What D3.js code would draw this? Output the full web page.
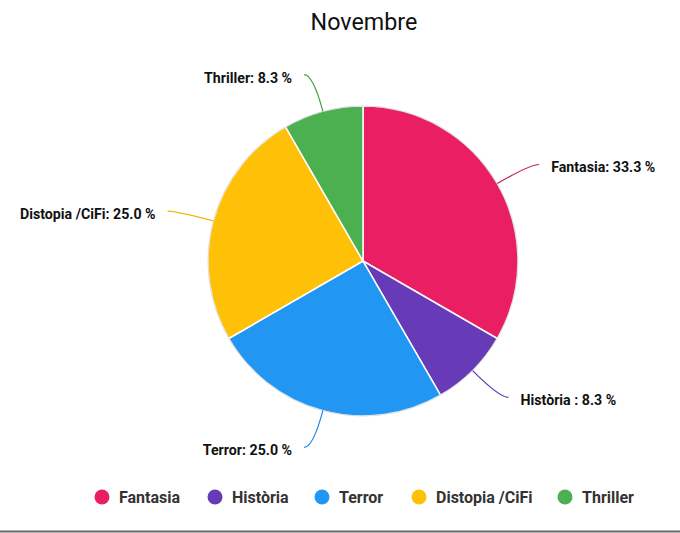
<!DOCTYPE html>
<html>
<head>
<meta charset="utf-8">
<script src="https://cdn.jsdelivr.net/npm/d3@7"></script>
<style>
  body { margin: 0; background: #fff; }
  svg { font-family: Roboto, "Noto Sans", sans-serif; display: block; }
  .slice-label { font-size: 14.2px; font-weight: bold; fill: #111; }
  .legend-label { font-size: 16px; font-weight: bold; fill: #333; }
</style>
</head>
<body>
<div id="chart"></div>
<script>
(function() {
    // data
    var categories = ['Fantasia', 'Història', 'Terror', 'Distopia /CiFi', 'Thriller'];
    var values = [4, 1, 3, 3, 1];
    var labelSeparators = [': ', ' : ', ': ', ': ', ': '];
    var colors = ['#E91E63', '#673AB7', '#2196F3', '#FFC107', '#4CAF50'];
    var lineColors = ['#c2185b', '#5e35b1', '#1e88e5', '#f2b705', '#43a047'];

    var width = 680,
        height = 533,
        center = { x: 363, y: 261 },
        radius = 155,
        elbow_radius = 193;

    var svg = d3.select('#chart').append('svg')
        .attr('width', width)
        .attr('height', height);

    // title
    svg.append('text')
        .attr('x', center.x + 1)
        .attr('y', 30)
        .attr('text-anchor', 'middle')
        .style('font-size', '23.3px')
        .style('fill', '#111')
        .text('Novembre');

    var total = d3.sum(values);
    var pie = d3.pie().sort(null).value(function(d) { return d; });
    var arcs = pie(values);
    var arc = d3.arc().innerRadius(0).outerRadius(radius);

    var g = svg.append('g')
        .attr('transform', 'translate(' + center.x + ',' + center.y + ')');

    // slices
    g.selectAll('path.slice')
        .data(arcs)
        .enter().append('path')
        .attr('class', 'slice')
        .attr('d', arc)
        .attr('fill', function(d, i) { return colors[i]; })
        .attr('stroke', '#fff')
        .attr('stroke-width', 1.5);

    // outer edge
    g.append('circle')
        .attr('r', radius)
        .attr('fill', 'none')
        .attr('stroke', 'rgba(0,0,0,0.18)')
        .attr('stroke-width', 0.8);

    // connectors & labels
    function polar(r, a) {
        return [r * Math.sin(a), -r * Math.cos(a)];
    }

    arcs.forEach(function(d, i) {
        var mid = (d.startAngle + d.endAngle) / 2,
            right = Math.sin(mid) > 0,
            p0 = polar(radius, mid),
            p1 = polar(elbow_radius, mid),
            p2 = [p1[0] + (right ? 9 : -9), p1[1]];

        g.append('path')
            .attr('d', 'M' + p0[0] + ',' + p0[1] +
                       'Q' + p1[0] + ',' + p1[1] + ' ' + p2[0] + ',' + p2[1])
            .attr('fill', 'none')
            .attr('stroke', lineColors[i])
            .attr('stroke-width', 1.2);

        var pct = (100 * d.value / total).toFixed(1);
        g.append('text')
            .attr('class', 'slice-label')
            .attr('x', p2[0] + (right ? 12 : -12))
            .attr('y', p2[1] + 3)
            .attr('dy', '0.35em')
            .attr('text-anchor', right ? 'start' : 'end')
            .text(categories[i] + labelSeparators[i] + pct + ' %');
    });

    // legend
    var legend_y = 497;
    var legend_x = d3.scaleOrdinal()
        .domain(categories)
        .range([102, 215, 322, 419, 565]);

    var items = svg.selectAll('g.legend')
        .data(categories)
        .enter().append('g')
        .attr('class', 'legend')
        .attr('transform', function(d) { return 'translate(' + legend_x(d) + ',' + legend_y + ')'; });

    items.append('circle')
        .attr('r', 7.5)
        .attr('fill', function(d, i) { return colors[i]; });

    items.append('text')
        .attr('class', 'legend-label')
        .attr('x', 17)
        .attr('dy', '0.35em')
        .text(function(d) { return d; });

    // bottom rule
    svg.append('line')
        .attr('x1', 0)
        .attr('x2', width)
        .attr('y1', 531.5)
        .attr('y2', 531.5)
        .attr('stroke', '#666')
        .attr('stroke-width', 2);
})();
</script>
</body>
</html>
